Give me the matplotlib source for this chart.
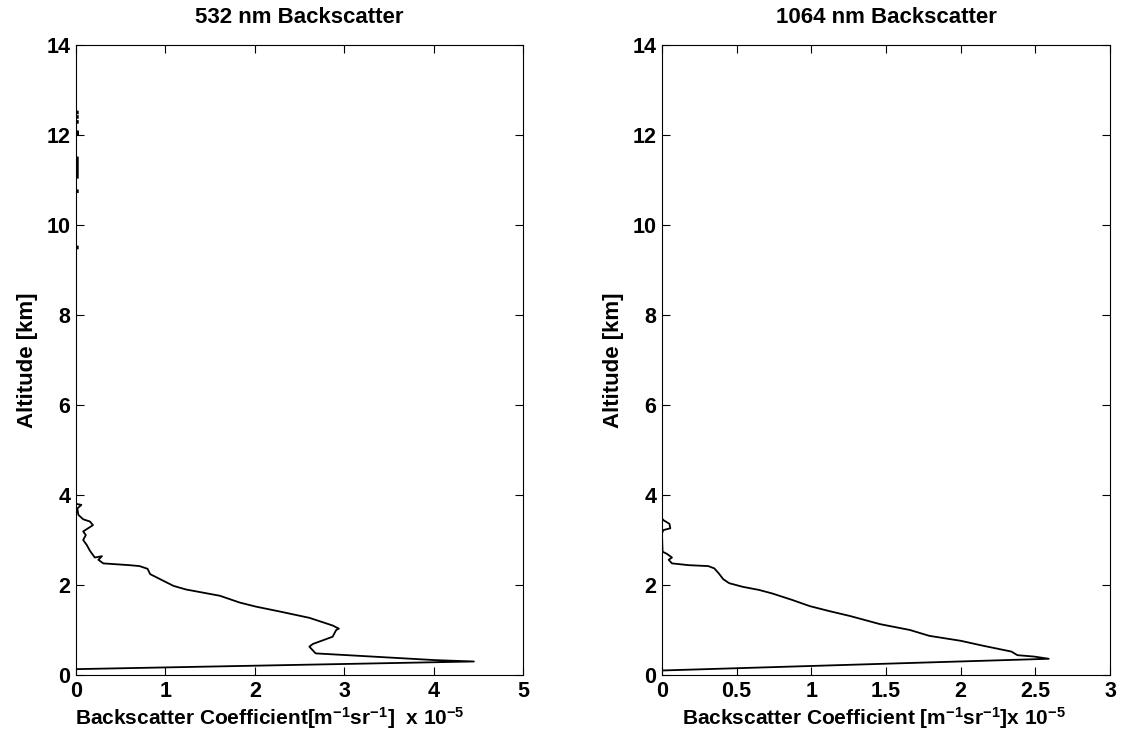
import numpy as np
import matplotlib
matplotlib.use("Agg")
import matplotlib.pyplot as plt

plt.rcParams["font.family"] = ["Liberation Sans", "DejaVu Sans"]
plt.rcParams["font.weight"] = "bold"
plt.rcParams["mathtext.fontset"] = "custom"
plt.rcParams["mathtext.rm"] = "Liberation Sans:bold"
plt.rcParams["mathtext.bf"] = "Liberation Sans:bold"
plt.rcParams["mathtext.default"] = "bf"

nan = np.nan

# 532 nm profile (x in 1e-5 m^-1 sr^-1, altitude in km), NaN marks gaps
bsc532 = [0.0, 4.45, 4.02, 2.68, 2.61, 2.65, 2.87, 2.91, 2.94, 2.87, 2.61, 2.28,
          2.01, 1.83, 1.61, 1.23, 1.09, 0.97, 0.83, 0.80, 0.71, 0.60, 0.305, 0.25,
          0.29, 0.21, 0.156, 0.12, 0.08, 0.11, 0.08, 0.19, 0.156, 0.08, 0.026,
          0.015, 0.06, 0.007,
          nan, 0.02, 0.02, nan, 0.02, 0.02, nan, 0.02, 0.02, nan, 0.02, 0.02,
          nan, 0.02, 0.02, nan, 0.02, 0.02, nan, 0.02, 0.02, nan, 0.02, 0.02]
alt532 = [0.13, 0.30, 0.33, 0.48, 0.63, 0.69, 0.85, 1.00, 1.03, 1.10, 1.27, 1.41,
          1.52, 1.61, 1.76, 1.90, 1.98, 2.10, 2.24, 2.36, 2.42, 2.44, 2.48, 2.56,
          2.64, 2.61, 2.76, 2.89, 3.00, 3.11, 3.19, 3.33, 3.41, 3.46, 3.56,
          3.70, 3.78, 3.80,
          nan, 9.48, 9.52, nan, 10.73, 10.77, nan, 11.05, 11.50, nan, 12.00, 12.08,
          nan, 12.27, 12.31, nan, 12.38, 12.42, nan, 12.48, 12.52, nan, 12.02, 12.06]

# 1064 nm profile
bsc1064 = [0.0, 2.59, 2.49, 2.38, 2.34, 2.15, 2.00, 1.79, 1.66, 1.46, 1.26, 1.12,
           0.99, 0.87, 0.74, 0.65, 0.54, 0.45, 0.41, 0.38, 0.35, 0.31, 0.18, 0.067,
           0.045, 0.067, 0.034, 0.004, 0.0, 0.01, 0.056, 0.05, 0.01, 0.0]
alt1064 = [0.10, 0.36, 0.41, 0.44, 0.52, 0.65, 0.76, 0.87, 1.00, 1.13, 1.31, 1.42,
           1.53, 1.67, 1.81, 1.89, 1.96, 2.04, 2.13, 2.26, 2.37, 2.42, 2.44, 2.48,
           2.56, 2.61, 2.69, 2.74, 3.15, 3.22, 3.26, 3.36, 3.44, 3.48]

fig = plt.figure(figsize=(11.21, 7.36), dpi=100)
ax1 = fig.add_axes([0.0678, 0.0829, 0.3988, 0.856])
ax2 = fig.add_axes([0.5905, 0.0829, 0.3997, 0.856])


def style(ax, xmax, xticks, xticklabels, title, xlabel, label_x):
    ax.set_xlim(0, xmax)
    ax.set_ylim(0, 14)
    ax.set_xticks(xticks)
    ax.set_xticklabels(xticklabels)
    ax.set_yticks(range(0, 15, 2))
    ax.tick_params(direction="in", top=True, right=True, length=6, width=0.8,
                   labelsize=15.5, pad=4)
    for lab in ax.get_xticklabels() + ax.get_yticklabels():
        lab.set_fontweight("bold")
    for s in ax.spines.values():
        s.set_linewidth(0.8)
    ax.set_title(title, fontsize=16, fontweight="bold", pad=16)
    ax.set_ylabel("Altitude [km]", fontsize=16, fontweight="bold", labelpad=6)
    ax.text(label_x, -0.068, xlabel, transform=ax.transAxes, fontsize=15,
            fontweight="bold", ha="left", va="center")


ax1.plot(bsc532, alt532, color="black", lw=1.3)
style(ax1, 5, [0, 1, 2, 3, 4, 5], ["0", "1", "2", "3", "4", "5"],
      "532 nm Backscatter",
      r"Backscatter Coefficient[m$^{-1}$sr$^{-1}$]  x 10$^{-5}$", -0.002)

ax2.plot(bsc1064, alt1064, color="black", lw=1.3)
style(ax2, 3, [0, 0.5, 1, 1.5, 2, 2.5, 3],
      ["0", "0.5", "1", "1.5", "2", "2.5", "3"],
      "1064 nm Backscatter",
      r"Backscatter Coefficient [m$^{-1}$sr$^{-1}$]x 10$^{-5}$", 0.045)

fig.savefig("out.png", dpi=100)
